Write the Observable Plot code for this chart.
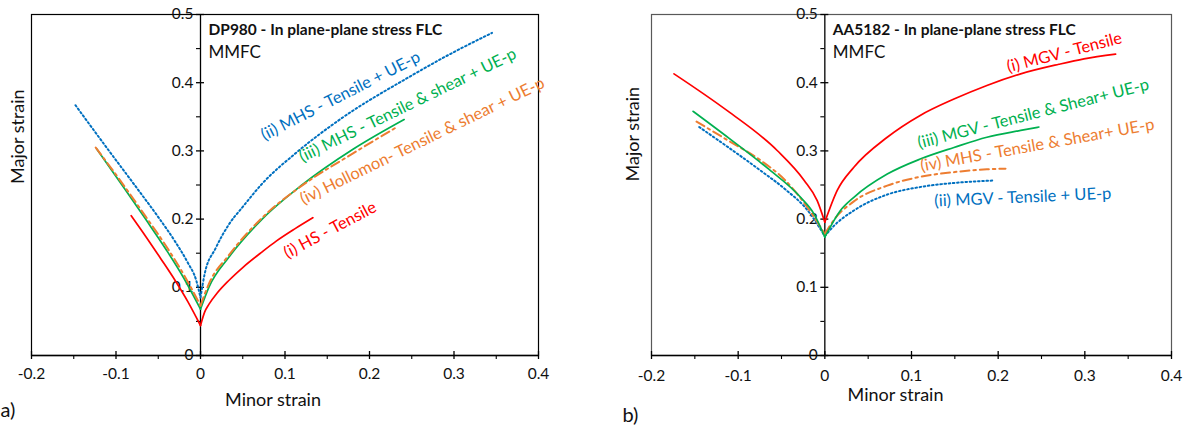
<!DOCTYPE html>
<html>
<head>
<meta charset="utf-8">
<script src="https://cdn.jsdelivr.net/npm/d3@7"></script>
<script src="https://cdn.jsdelivr.net/npm/@observablehq/plot@0.6"></script>
<style>
  html, body { margin: 0; padding: 0; background: #fff; }
  #wrap { position: relative; width: 1185px; height: 432px; overflow: hidden; font-family: Lato, sans-serif; }
  #wrap > div { position: absolute; top: 0; }
  svg { overflow: visible; }
</style>
</head>
<body>
<div id="wrap"><div id="pa" style="left:0"></div><div id="pb" style="left:592px"></div></div>
<script>
// ---- axis ticks ----
const xMajorTicks = [-0.2, -0.1, 0, 0.1, 0.2, 0.3, 0.4];
const xMinorTicks = [-0.15, -0.05, 0.05, 0.15, 0.25, 0.35];
const yMajorTicks = [0, 0.1, 0.2, 0.3, 0.4, 0.5];
const yMinorTicks = [0.05, 0.15, 0.25, 0.35, 0.45];

// ---- (a) DP980 series: [minor strain, major strain] ----
const dpHS_Tensile = [[-0.082,0.205],[-0.065,0.175],[-0.047,0.142],[-0.03,0.110],[-0.015,0.079],[0,0.044],
  [0.005,0.064],[0.0099,0.075],[0.02,0.092],[0.0335,0.110],[0.05,0.129],[0.073,0.152],[0.09,0.168],[0.112,0.186],[0.133,0.202]];
const dpMHS_Tensile_UEp = [[-0.148,0.367],[-0.11,0.303],[-0.075,0.245],[-0.05,0.203],[-0.03,0.167],[-0.015,0.136],[-0.005,0.110],[0,0.085],
  [0.005,0.120],[0.0178,0.157],[0.0335,0.192],[0.05,0.218],[0.073,0.252],[0.112,0.296],[0.166,0.347],[0.245,0.407],[0.3,0.445],[0.345,0.473]];
const dpMHS_TensileShear_UEp = [[-0.123,0.303],[-0.09,0.245],[-0.065,0.200],[-0.04,0.154],[-0.02,0.114],[0,0.068],
  [0.0099,0.100],[0.0335,0.144],[0.073,0.200],[0.12,0.250],[0.18,0.302],[0.241,0.346]];
const dpHollomon_TensileShear_UEp = [[-0.124,0.305],[-0.09,0.248],[-0.065,0.204],[-0.04,0.159],[-0.02,0.119],[0,0.073],
  [0.0099,0.105],[0.0335,0.147],[0.073,0.202],[0.12,0.249],[0.18,0.296],[0.231,0.334]];

// ---- (b) AA5182 series ----
const aaMGV_Tensile = [[-0.174,0.413],[-0.1126,0.359],[-0.055,0.3006],[-0.024,0.257],[-0.0088,0.227],[0,0.1955],
  [0.0143,0.242],[0.0335,0.276],[0.072,0.320],[0.110,0.352],[0.149,0.376],[0.187,0.396],[0.226,0.413],[0.27,0.427],[0.299,0.435],[0.3355,0.442]];
const aaMGV_Tensile_UEp = [[-0.145,0.335],[-0.11,0.304],[-0.074,0.271],[-0.045,0.243],[-0.020,0.213],[0,0.175],
  [0.0104,0.190],[0.0335,0.2126],[0.072,0.236],[0.110,0.247],[0.149,0.253],[0.195,0.2566]];
const aaMGV_TensileShear_UEp = [[-0.152,0.358],[-0.11,0.318],[-0.0665,0.275],[-0.028,0.232],[-0.0127,0.208],[0,0.1735],
  [0.018,0.2126],[0.0335,0.232],[0.072,0.266],[0.110,0.288],[0.149,0.305],[0.187,0.320],[0.226,0.330],[0.247,0.335]];
const aaMHS_TensileShear_UEp = [[-0.148,0.343],[-0.11,0.314],[-0.074,0.286],[-0.045,0.256],[-0.020,0.217],[0,0.178],
  [0.01,0.198],[0.0335,0.226],[0.072,0.249],[0.11,0.262],[0.15,0.269],[0.187,0.273],[0.2085,0.274]];

// ---- label texts ----
const dpLabels = ["(ii) MHS - Tensile + UE-p", "(iii) MHS - Tensile & shear + UE-p", "(iv) Hollomon- Tensile & shear + UE-p", "(i) HS - Tensile"];
const aaLabels = ["(i) MGV - Tensile", "(iii) MGV - Tensile & Shear+ UE-p", "(iv) MHS - Tensile & Shear+ UE-p", "(ii) MGV - Tensile + UE-p"];
const titles = ["DP980 - In plane-plane stress FLC", "AA5182 - In plane-plane stress FLC"];

// ---- styling ----
const RED = "#FF0000", GREEN = "#00B050", ORANGE = "#ED7D31", BLUE = "#0070C0";
const styles = {
  solid: {strokeWidth: 1.7},
  dot: {strokeWidth: 2, strokeDasharray: "1.6,2.6"},
  dashdot: {strokeWidth: 2, strokeDasharray: "9,4,2.5,4"}
};

function branches(pts) {
  const rows = [];
  pts.filter(p => p[0] <= 0).forEach(p => rows.push({x: p[0], y: p[1], b: "L"}));
  pts.filter(p => p[0] >= 0).forEach(p => rows.push({x: p[0], y: p[1], b: "R"}));
  return rows;
}
function curve(pts, color, st) {
  return Plot.line(branches(pts), {x: "x", y: "y", z: "b", stroke: color, curve: "monotone-x", ...styles[st]});
}

function panel(cfg) {
  return Plot.plot({
    width: cfg.width, height: 432,
    marginTop: 14, marginBottom: 77, marginLeft: cfg.marginLeft, marginRight: cfg.marginRight,
    x: {domain: [-0.2, 0.4], axis: null},
    y: {domain: [0, 0.5], axis: null},
    style: {fontFamily: "Lato, sans-serif", fontSize: "15px", color: "#000", background: "transparent", overflow: "visible"},
    marks: [
      Plot.frame({stroke: cfg.frameColor, strokeWidth: 1.2}),
      Plot.ruleY([0], {stroke: "#000", strokeWidth: 1.3}),
      Plot.ruleX([0], {stroke: "#000", strokeWidth: 1.3}),
      Plot.ruleX(xMajorTicks, {x: d => d, y1: 0, y2: 0, insetTop: -4, insetBottom: -4, stroke: "#000", strokeWidth: 1.3}),
      Plot.ruleX(xMinorTicks, {x: d => d, y1: 0, y2: 0, insetTop: 0, insetBottom: -4, stroke: "#000", strokeWidth: 1.1}),
      Plot.ruleY(yMajorTicks, {y: d => d, x1: 0, x2: 0, insetLeft: -4, insetRight: -4, stroke: "#000", strokeWidth: 1.3}),
      Plot.ruleY(yMinorTicks, {y: d => d, x1: 0, x2: 0, insetLeft: -4, insetRight: 0, stroke: "#000", strokeWidth: 1.1}),
      Plot.text(xMajorTicks, {x: d => d, frameAnchor: "bottom", dy: cfg.xTickDy, text: d => String(d), fontSize: 15.5, fill: "#111"}),
      Plot.text(yMajorTicks, {x: 0, y: d => d, dx: -7, textAnchor: "end", text: d => String(d), fontSize: 15.5, fill: "#111"}),
      Plot.text(["Minor strain"], {frameAnchor: "bottom", dx: cfg.xTitleDx, dy: cfg.xTitleDy, fontSize: 18, fill: "#111"}),
      Plot.text(["Major strain"], {frameAnchor: "left", dx: cfg.yTitleDx, dy: cfg.yTitleDy, rotate: -90, fontSize: 18, fill: "#111"}),
      Plot.text([cfg.letter], {frameAnchor: "bottom-left", dx: cfg.letterDx, dy: cfg.letterDy, textAnchor: "start", fontSize: 20, fill: "#111"}),
      Plot.text([cfg.title], {x: 0, frameAnchor: "top", dx: 8, dy: 20, textAnchor: "start", lineAnchor: "bottom", fontWeight: "bold", fontSize: 15.5, fill: "#111"}),
      Plot.text(["MMFC"], {x: 0, frameAnchor: "top", dx: 8, dy: 43, textAnchor: "start", lineAnchor: "bottom", fontSize: 17, fill: "#111"}),
      ...cfg.curves,
      Plot.text(cfg.labels, {x: "x", y: "y", text: "t", rotate: "r", fill: "c", textAnchor: "start", lineAnchor: "bottom", fontSize: 16.5})
    ]
  });
}

// label anchors (baseline start) in data coordinates, with rotation
const dpLabelPos = [
  {t: dpLabels[0], x: 0.0757, y: 0.315, r: -27, c: BLUE},
  {t: dpLabels[1], x: 0.1207, y: 0.283, r: -26, c: GREEN},
  {t: dpLabels[2], x: 0.122, y: 0.221, r: -26, c: ORANGE},
  {t: dpLabels[3], x: 0.103, y: 0.142, r: -28, c: RED}
];
const aaLabelPos = [
  {t: aaLabels[0], x: 0.212, y: 0.415, r: -14.5, c: RED},
  {t: aaLabels[1], x: 0.109, y: 0.3035, r: -14.4, c: GREEN},
  {t: aaLabels[2], x: 0.1115, y: 0.2698, r: -10.2, c: ORANGE},
  {t: aaLabels[3], x: 0.1266, y: 0.2185, r: -2.5, c: BLUE}
];

document.getElementById("pa").append(panel({
  width: 592, marginLeft: 31, marginRight: 54, frameColor: "#000",
  xTickDy: 23, xTitleDx: -12, xTitleDy: 50, yTitleDx: -13, yTitleDy: -1,
  letter: "a)", letterDx: -31, letterDy: 61,
  title: titles[0], labels: dpLabelPos,
  curves: [
    curve(dpHS_Tensile, RED, "solid"),
    curve(dpMHS_Tensile_UEp, BLUE, "dot"),
    curve(dpMHS_TensileShear_UEp, GREEN, "solid"),
    curve(dpHollomon_TensileShear_UEp, ORANGE, "dashdot")
  ]
}));
document.getElementById("pb").append(panel({
  width: 593, marginLeft: 59, marginRight: 14, frameColor: "#595959",
  xTickDy: 25, xTitleDx: -16, xTitleDy: 45, yTitleDx: -18.5, yTitleDy: -3.5,
  letter: "b)", letterDx: -29, letterDy: 66,
  title: titles[1], labels: aaLabelPos,
  curves: [
    curve(aaMGV_Tensile, RED, "solid"),
    curve(aaMGV_Tensile_UEp, BLUE, "dot"),
    curve(aaMHS_TensileShear_UEp, ORANGE, "dashdot"),
    curve(aaMGV_TensileShear_UEp, GREEN, "solid")
  ]
}));
</script>
</body>
</html>
